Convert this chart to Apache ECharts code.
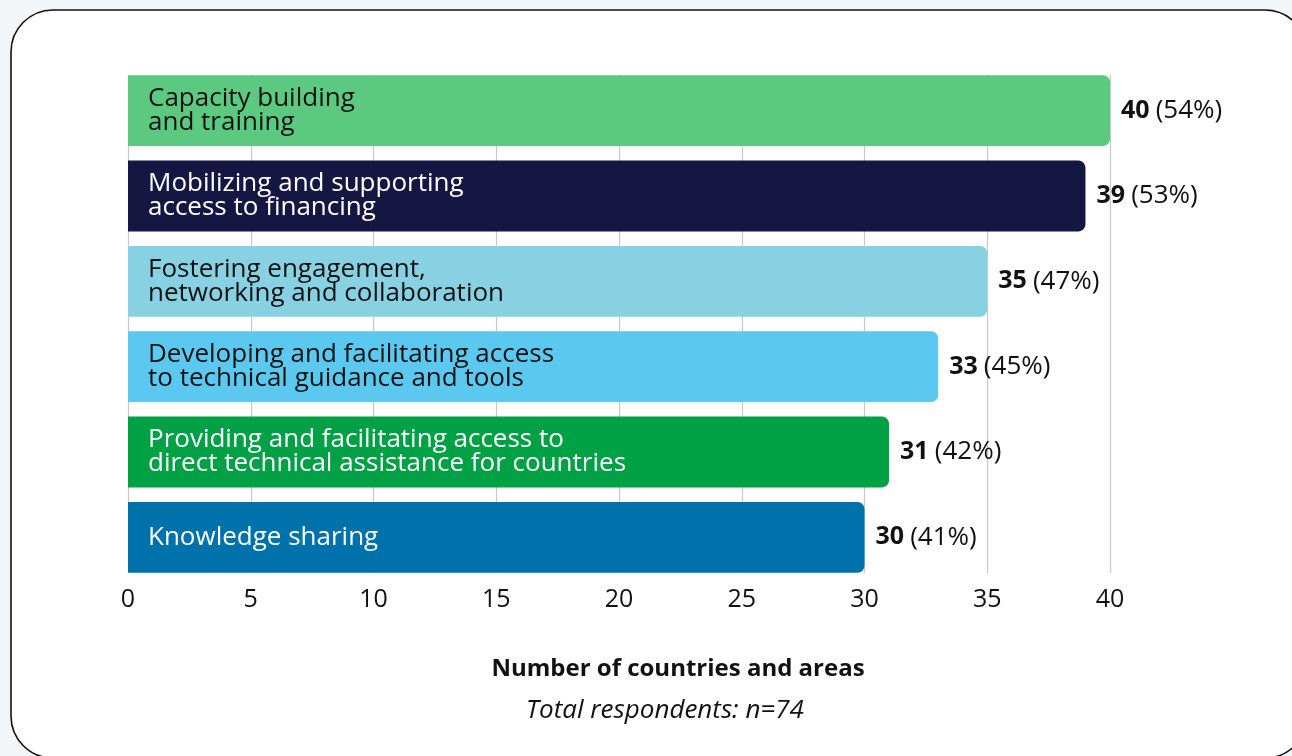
<!DOCTYPE html>
<html>
<head>
<meta charset="utf-8">
<style>
  html, body { margin: 0; padding: 0; background: #f3f6f8; }
  #chart { width: 1292px; height: 756px; }
</style>
<script src="https://cdn.jsdelivr.net/npm/echarts@6/dist/echarts.min.js"></script>
</head>
<body>
<div id="chart"></div>
<script>
const categories = [
  'Capacity building\nand training',
  'Mobilizing and supporting\naccess to financing',
  'Fostering engagement,\nnetworking and collaboration',
  'Developing and facilitating access\nto technical guidance and tools',
  'Providing and facilitating access to\ndirect technical assistance for countries',
  'Knowledge sharing'
];
const counts = [40, 39, 35, 33, 31, 30];
const percents = [54, 53, 47, 45, 42, 41];
const barColors = ['#5bc97f', '#161642', '#87d1e2', '#5bc8ef', '#00a045', '#0072ab'];
const textColors = ['#111111', '#ffffff', '#111111', '#111111', '#ffffff', '#ffffff'];
const xTicks = [0, 5, 10, 15, 20, 25, 30, 35, 40];
const axisTitle = 'Number of countries and areas';
const note = 'Total respondents: n=74';

const FONT = '"Open Sans", Lato, sans-serif';
const chart = echarts.init(document.getElementById('chart'), null, { renderer: 'canvas' });

const mainData = counts.map((v, i) => ({
  value: v,
  itemStyle: { color: barColors[i] },
  label: { color: textColors[i] }
}));

chart.setOption({
  backgroundColor: 'transparent',
  animation: false,
  textStyle: { fontFamily: FONT },
  graphic: {
    elements: [
      {
        type: 'rect', z: -100, silent: true,
        shape: { x: 11, y: 10, width: 1296, height: 748, r: 42 },
        style: { fill: '#ffffff', stroke: '#111111', lineWidth: 1.6 }
      },
      {
        type: 'text', z: 10, silent: true,
        x: 678, y: 669,
        style: { text: axisTitle, textAlign: 'center', textVerticalAlign: 'middle',
                 font: 'bold 24px ' + FONT, fill: '#111111' }
      },
      {
        type: 'text', z: 10, silent: true,
        x: 665, y: 711,
        style: { text: note, textAlign: 'center', textVerticalAlign: 'middle',
                 font: 'italic 26px ' + FONT, fill: '#111111' }
      }
    ]
  },
  grid: [
    { left: 128, right: 182, top: 68, height: 512 },
    { left: 128, right: 182, top: 75, height: 498 }
  ],
  xAxis: [
    {
      type: 'value', gridIndex: 0, min: 0, max: 40, interval: 5,
      axisLine: { show: false }, axisTick: { show: false },
      splitLine: { show: false },
      axisLabel: { show: true, fontSize: 25, color: '#111111', margin: 7, fontFamily: FONT,
        formatter: v => (xTicks.indexOf(v) >= 0 ? String(v) : '') }
    },
    {
      type: 'value', gridIndex: 1, min: 0, max: 40, interval: 5,
      axisLine: { show: false }, axisTick: { show: false }, axisLabel: { show: false },
      splitLine: { show: true, lineStyle: { color: '#c8c8c8', width: 1.2 } }
    }
  ],
  yAxis: [
    {
      type: 'category', gridIndex: 0, data: categories, inverse: true,
      axisLine: { show: false }, axisTick: { show: false }, axisLabel: { show: false },
      splitLine: { show: false }
    },
    { type: 'value', gridIndex: 1, show: false, min: 0, max: 1 }
  ],
  series: [
    {
      type: 'bar', xAxisIndex: 0, yAxisIndex: 0,
      data: mainData,
      barCategoryGap: '17%',
      barGap: '-100%',
      itemStyle: { borderRadius: [0, 7, 7, 0] },
      label: {
        show: true, position: [20, '50%'], align: 'left', verticalAlign: 'middle',
        fontSize: 26, lineHeight: 24, fontFamily: FONT,
        formatter: p => categories[p.dataIndex]
      },
      silent: true
    },
    {
      type: 'bar', xAxisIndex: 0, yAxisIndex: 0,
      data: counts,
      barCategoryGap: '17%',
      barGap: '-100%',
      itemStyle: { color: 'rgba(0,0,0,0)' },
      label: {
        show: true, position: 'right', distance: 11,
        formatter: p => '{b|' + counts[p.dataIndex] + '} {n|(' + percents[p.dataIndex] + '%)}',
        rich: {
          b: { fontSize: 25, fontWeight: 'bold', color: '#111111', fontFamily: FONT },
          n: { fontSize: 26, color: '#111111', fontFamily: FONT, padding: [0, 0, 0, 3] }
        }
      },
      silent: true
    }
  ]
});
</script>
</body>
</html>
